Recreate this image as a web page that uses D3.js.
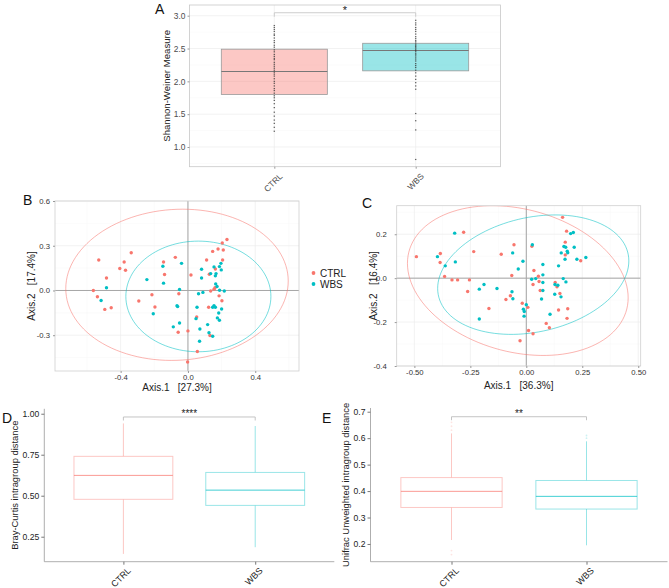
<!DOCTYPE html>
<html>
<head>
<meta charset="utf-8">
<script src="https://cdn.jsdelivr.net/npm/d3@7"></script>
<style>
  body { margin: 0; background: #fff; }
  svg { display: block; font-family: "Liberation Sans", Arial, sans-serif; }
</style>
</head>
<body>
<svg width="669" height="588"></svg>
<script>
// ---- data ----
let groups = ["CTRL", "WBS"]

// A: Shannon diversity, box (q1, median, q3) and the sample dots
let shannonQ1 = [1.80, 2.16]
let shannonMed = [2.15, 2.47]
let shannonQ3 = [2.49, 2.58]
let shannonCtrl = [2.85, 2.82, 2.79, 2.76, 2.72, 2.70, 2.66, 2.62, 2.59, 2.55, 2.52, 2.48, 2.45, 2.41,
  2.38, 2.35, 2.33, 2.29, 2.26, 2.23, 2.20, 2.17, 2.14, 2.11, 2.08, 2.04, 2.00, 1.97, 1.93, 1.89,
  1.86, 1.82, 1.78, 1.75, 1.71, 1.66, 1.60, 1.53, 1.47, 1.41, 1.36, 1.30, 1.24]
let shannonWbs = [2.93, 2.89, 2.86, 2.82, 2.79, 2.76, 2.72, 2.68, 2.65, 2.62, 2.60, 2.57, 2.55, 2.53,
  2.51, 2.49, 2.47, 2.45, 2.42, 2.40, 2.37, 2.34, 2.31, 2.27, 2.24, 2.21, 2.17, 2.13, 2.08, 2.03,
  1.98, 1.93, 1.88, 1.51, 1.40, 1.26, 0.81]

// B: PCoA (Bray-Curtis) coordinates [axis1, axis2]
let bCtrl = [[0.232, 0.342], [0.204, 0.318], [0.147, 0.262], [0.179, 0.278], [0.210, 0.271],
  [-0.337, 0.253], [-0.530, 0.204], [-0.379, 0.191], [-0.405, 0.147], [-0.371, 0.136],
  [-0.145, 0.191], [-0.075, 0.222], [0.111, 0.204], [0.206, 0.204], [-0.139, 0.107],
  [0.018, 0.104], [0.127, 0.109], [0.163, 0.144], [-0.484, 0.084], [-0.562, 0.0],
  [-0.538, -0.042], [-0.494, -0.127], [-0.456, -0.116], [-0.292, -0.071], [-0.214, -0.029],
  [-0.196, -0.111], [-0.054, -0.022], [0.135, -0.004], [0.155, 0.009], [0.161, 0.018],
  [0.185, -0.036], [0.202, -0.069], [0.123, -0.113], [0.052, -0.178], [-0.058, -0.280],
  [0.0, -0.271], [0.131, -0.302], [0.056, -0.409], [-0.002, -0.480]]
let bWbs = [[-0.038, 0.182], [-0.149, 0.162], [0.081, 0.142], [0.155, 0.158], [0.187, 0.160],
  [0.196, 0.182], [0.135, 0.113], [0.167, 0.113], [0.163, 0.098], [0.198, 0.138], [-0.244, 0.073],
  [0.081, 0.084], [-0.145, 0.049], [0.165, 0.044], [0.173, 0.027], [-0.484, 0.018], [-0.050, 0.007],
  [-0.516, -0.067], [0.089, -0.013], [0.063, -0.022], [0.188, 0.002], [0.216, -0.004],
  [-0.065, -0.102], [-0.061, -0.108], [0.054, -0.113], [0.155, -0.102], [0.147, -0.113],
  [0.163, -0.113], [0.200, -0.124], [-0.206, -0.156], [0.183, -0.151], [0.048, -0.189],
  [0.175, -0.184], [0.187, -0.200], [-0.050, -0.218], [-0.087, -0.244], [0.071, -0.258],
  [0.117, -0.229], [0.125, -0.284], [0.147, -0.307], [0.069, -0.340]]
// ellipses: [centre x, centre y, half width, half height, correlation]
let bEllipses = [[-0.065, 0.038, 0.661, 0.507, 0.05], [0.062, -0.040, 0.431, 0.371, 0.0]]

// C: PCoA (Unifrac) coordinates
let cCtrl = [[-0.491, 0.098], [-0.384, 0.112], [-0.385, 0.071], [-0.365, 0.008], [-0.332, -0.008],
  [-0.307, -0.008], [-0.280, 0.209], [-0.235, 0.121], [-0.254, -0.008], [-0.262, -0.061],
  [-0.167, -0.138], [-0.112, 0.109], [-0.055, 0.152], [-0.065, 0.012], [-0.071, -0.080],
  [-0.091, -0.097], [-0.018, -0.114], [0.007, -0.133], [0.025, 0.145], [0.034, 0.035],
  [0.010, -0.238], [-0.028, -0.285], [0.030, -0.253], [0.054, 0.009], [0.057, -0.015],
  [0.030, -0.029], [0.062, -0.056], [0.089, -0.206], [0.103, -0.226], [0.129, -0.020],
  [0.137, -0.039], [0.150, -0.070], [0.144, -0.145], [0.162, 0.277], [0.180, 0.214],
  [0.174, 0.164], [0.174, 0.106], [0.185, -0.139], [0.182, -0.183], [0.243, 0.079]]
let cWbs = [[-0.320, 0.205], [-0.397, 0.098], [-0.362, 0.056], [-0.317, 0.074], [-0.189, -0.029],
  [-0.210, -0.050], [-0.210, -0.186], [-0.131, -0.047], [-0.061, 0.115], [-0.015, 0.077],
  [-0.036, 0.042], [-0.064, -0.062], [-0.060, -0.094], [0.027, 0.152], [0.0, -0.121],
  [-0.013, -0.141], [-0.009, -0.152], [-0.010, -0.173], [0.024, -0.005], [0.042, -0.002],
  [0.074, 0.062], [0.074, 0.015], [0.074, -0.020], [0.074, -0.056], [0.068, -0.095],
  [0.106, -0.164], [0.128, -0.029], [0.141, -0.032], [0.127, -0.073], [0.144, 0.056],
  [0.155, -0.085], [0.156, 0.115], [0.168, 0.144], [0.176, 0.141], [0.183, 0.123],
  [0.185, 0.116], [0.173, 0.086], [0.165, -0.002], [0.177, -0.017], [0.198, 0.203],
  [0.210, 0.208], [0.214, 0.141], [0.226, 0.086], [0.266, 0.094]]
let cEllipses = [[-0.038, -0.011, 0.493, 0.341, -0.23], [0.031, 0.016, 0.427, 0.272, 0.23]]

// D / E: intragroup distances, [lower whisker, q1, median, q3, upper whisker]
let brayStats = [[0.145, 0.478, 0.624, 0.740, 0.941], [0.186, 0.441, 0.534, 0.642, 0.925]]
let brayOutliers = [[], []]
let unifracStats = [[0.215, 0.338, 0.399, 0.451, 0.618], [0.195, 0.332, 0.380, 0.440, 0.588]]
let unifracOutliers = [[0.66, 0.645, 0.63, 0.175, 0.16], [0.61, 0.60]]

let colors = ["#F8766D", "#00BFC4"]

let svg = d3.select("svg")

// small helper: restyle a d3 axis group the ggplot way
let styleAxis = (g, size, fill, tickColor) => {
  g.select(".domain").remove()
  g.selectAll(".tick line").attr("stroke", tickColor)
  g.selectAll(".tick text").style("font-size", size + "px").attr("fill", fill)
}

let panelLabel = (txt, x, y) => {
  svg.append("text").attr("x", x).attr("y", y).style("font-size", "14px").attr("fill", "#111").text(txt)
}

// ---------- A ----------
let drawPanelA = () => {
  let left = 189.5, right = 500.5, top = 5, bottom = 166.7
  let x = d3.scalePoint().domain(groups).range([left, right]).padding(0.6)
  let y = d3.scaleLinear().domain([0.70, 3.163]).range([bottom, top])
  let g = svg.append("g")

  g.append("rect").attr("x", left).attr("y", top).attr("width", right - left).attr("height", bottom - top)
   .attr("fill", "#fff")
  g.selectAll(".minor").data(d3.range(0.75, 3.2, 0.5)).enter().append("line")
   .attr("x1", left).attr("x2", right).attr("y1", d => y(d)).attr("y2", d => y(d))
   .attr("stroke", "#f6f6f6").attr("stroke-width", 0.5)
  g.selectAll(".major").data([1, 1.5, 2, 2.5, 3]).enter().append("line")
   .attr("x1", left).attr("x2", right).attr("y1", d => y(d)).attr("y2", d => y(d))
   .attr("stroke", "#ececec").attr("stroke-width", 0.7)
  g.selectAll(".vgrid").data(groups).enter().append("line")
   .attr("x1", d => x(d)).attr("x2", d => x(d)).attr("y1", top).attr("y2", bottom)
   .attr("stroke", "#ececec").attr("stroke-width", 0.7)

  let bw = x.step() * 0.75
  groups.forEach((grp, i) => {
    g.append("rect")
     .attr("x", x(grp) - bw / 2).attr("width", bw)
     .attr("y", y(shannonQ3[i])).attr("height", y(shannonQ1[i]) - y(shannonQ3[i]))
     .attr("fill", colors[i]).attr("fill-opacity", 0.4)
     .attr("stroke", "#999").attr("stroke-width", 0.8)
    g.append("line")
     .attr("x1", x(grp) - bw / 2).attr("x2", x(grp) + bw / 2)
     .attr("y1", y(shannonMed[i])).attr("y2", y(shannonMed[i]))
     .attr("stroke", "#777").attr("stroke-width", 1.2)
  })

  let dots = [shannonCtrl, shannonWbs]
  groups.forEach((grp, i) => {
    g.selectAll(".dot" + i).data(dots[i]).enter().append("rect")
     .attr("x", x(grp) - 0.7).attr("y", d => y(d) - 0.6).attr("width", 1.4).attr("height", 1.2)
     .attr("fill", "#333").attr("fill-opacity", 0.75)
  })

  g.append("rect").attr("x", left).attr("y", top).attr("width", right - left).attr("height", bottom - top)
   .attr("fill", "none").attr("stroke", "#c8c8c8").attr("stroke-width", 0.8)

  // significance bracket
  let by = y(3.045)
  g.append("path")
   .attr("d", `M${x("CTRL")},${by + 4}V${by}H${x("WBS")}V${by + 4}`)
   .attr("fill", "none").attr("stroke", "#c8c8c8").attr("stroke-width", 0.9)
  g.append("text").attr("x", (x("CTRL") + x("WBS")) / 2).attr("y", by + 1)
   .attr("text-anchor", "middle").style("font-size", "11px").attr("fill", "#222").text("*")

  let yAxis = g.append("g").attr("transform", `translate(${left},0)`)
   .call(d3.axisLeft(y).tickValues([1, 1.5, 2, 2.5, 3]).tickFormat(d => d.toFixed(1)).tickSize(2).tickPadding(2))
  styleAxis(yAxis, 8.4, "#4d4d4d", "#999")

  let xAxis = g.append("g").attr("transform", `translate(0,${bottom})`)
   .call(d3.axisBottom(x).tickSize(2))
  styleAxis(xAxis, 8.4, "#4d4d4d", "#999")
  xAxis.selectAll(".tick text")
   .attr("x", 0).attr("y", 0).attr("dy", "0.71em")
   .attr("text-anchor", "end")
   .attr("transform", "translate(4,6) rotate(-45)")

  g.append("text").attr("transform", `translate(167,${(top + bottom) / 2}) rotate(-90)`)
   .attr("text-anchor", "middle").attr("dy", "0.35em")
   .style("font-size", "9.6px").attr("fill", "#222").text("Shannon-Weiner Measure")

  panelLabel("A", 155, 14)
}

// ---------- B and C ----------
let drawPcoa = (o) => {
  let x = d3.scaleLinear().domain(o.xDomain).range([o.left, o.right])
  let y = d3.scaleLinear().domain(o.yDomain).range([o.bottom, o.top])
  let g = svg.append("g")
  let clipId = "clip" + o.label
  g.append("clipPath").attr("id", clipId).append("rect")
   .attr("x", o.left).attr("y", o.top).attr("width", o.right - o.left).attr("height", o.bottom - o.top)

  g.selectAll(".xminor").data(o.xMinor).enter().append("line")
   .attr("x1", d => x(d)).attr("x2", d => x(d)).attr("y1", o.top).attr("y2", o.bottom)
   .attr("stroke", "#f6f6f6").attr("stroke-width", 0.5)
  g.selectAll(".yminor").data(o.yMinor).enter().append("line")
   .attr("y1", d => y(d)).attr("y2", d => y(d)).attr("x1", o.left).attr("x2", o.right)
   .attr("stroke", "#f6f6f6").attr("stroke-width", 0.5)
  g.selectAll(".xmajor").data(o.xTicks).enter().append("line")
   .attr("x1", d => x(d)).attr("x2", d => x(d)).attr("y1", o.top).attr("y2", o.bottom)
   .attr("stroke", "#ededed").attr("stroke-width", 0.7)
  g.selectAll(".ymajor").data(o.yTicks).enter().append("line")
   .attr("y1", d => y(d)).attr("y2", d => y(d)).attr("x1", o.left).attr("x2", o.right)
   .attr("stroke", "#ededed").attr("stroke-width", 0.7)

  // zero lines
  g.append("line").attr("x1", x(0)).attr("x2", x(0)).attr("y1", o.top).attr("y2", o.bottom)
   .attr("stroke", "#a6a6a6").attr("stroke-width", 1)
  g.append("line").attr("y1", y(0)).attr("y2", y(0)).attr("x1", o.left).attr("x2", o.right)
   .attr("stroke", "#a6a6a6").attr("stroke-width", 1)

  // ellipses
  let line = d3.line().x(d => x(d[0])).y(d => y(d[1]))
  let ellipsePts = e => d3.range(0, 121).map(i => {
    let t = i / 120 * 2 * Math.PI
    return [e[0] + e[2] * Math.cos(t), e[1] + e[3] * (e[4] * Math.cos(t) + Math.sqrt(1 - e[4] * e[4]) * Math.sin(t))]
  })
  o.ellipses.forEach((e, i) => {
    g.append("path").attr("d", line(ellipsePts(e))).attr("clip-path", `url(#${clipId})`)
     .attr("fill", "none").attr("stroke", colors[i]).attr("stroke-opacity", 0.6).attr("stroke-width", 0.9)
  })

  ;[o.ctrl, o.wbs].forEach((pts, i) => {
    g.selectAll(".pt" + i).data(pts).enter().append("circle")
     .attr("cx", d => x(d[0])).attr("cy", d => y(d[1])).attr("r", 1.7)
     .attr("fill", colors[i])
  })

  g.append("rect").attr("x", o.left).attr("y", o.top).attr("width", o.right - o.left).attr("height", o.bottom - o.top)
   .attr("fill", "none").attr("stroke", "#cfcfcf").attr("stroke-width", 0.8)

  let xAxis = g.append("g").attr("transform", `translate(0,${o.bottom})`)
   .call(d3.axisBottom(x).tickValues(o.xTicks).tickFormat(o.xFmt).tickSize(2).tickPadding(2))
  styleAxis(xAxis, 7.7, "#333", "#999")
  let yAxis = g.append("g").attr("transform", `translate(${o.left},0)`)
   .call(d3.axisLeft(y).tickValues(o.yTicks).tickFormat(o.yFmt).tickSize(2).tickPadding(o.yPad))
  styleAxis(yAxis, 7.7, "#333", "#999")

  g.append("text").attr("x", (o.left + o.right) / 2).attr("y", o.xTitleY)
   .attr("text-anchor", "middle").style("font-size", "10px").attr("fill", "#222")
   .attr("xml:space", "preserve").text(o.xTitle)
  g.append("text").attr("transform", `translate(${o.yTitleX},${(o.top + o.bottom) / 2}) rotate(-90)`)
   .attr("text-anchor", "middle").attr("dy", "0.35em").attr("xml:space", "preserve")
   .style("font-size", "10px").attr("fill", "#222").text(o.yTitle)

  panelLabel(o.label, o.labelX, o.labelY)
}

let drawLegend = () => {
  let lg = svg.append("g")
  groups.forEach((grp, i) => {
    lg.append("circle").attr("cx", 313.5).attr("cy", 273 + i * 11).attr("r", 1.9).attr("fill", colors[i])
    lg.append("text").attr("x", 320).attr("y", 273 + i * 11).attr("dy", "0.36em")
     .style("font-size", "10px").attr("fill", "#222").text(grp)
  })
}

// ---------- D and E ----------
let drawDist = (o) => {
  let x = d3.scalePoint().domain(groups).range([o.left, o.right]).padding(0.6)
  let y = d3.scaleLinear().domain(o.yDomain).range([o.bottom, o.top])
  let g = svg.append("g")
  let bw = x.step() * 0.75

  groups.forEach((grp, i) => {
    let s = o.stats[i], cx = x(grp)
    g.append("line").attr("x1", cx).attr("x2", cx).attr("y1", y(s[0])).attr("y2", y(s[1]))
     .attr("stroke", colors[i]).attr("stroke-opacity", 0.45).attr("stroke-width", 0.9)
    g.append("line").attr("x1", cx).attr("x2", cx).attr("y1", y(s[3])).attr("y2", y(s[4]))
     .attr("stroke", colors[i]).attr("stroke-opacity", 0.45).attr("stroke-width", 0.9)
    g.append("rect").attr("x", cx - bw / 2).attr("width", bw)
     .attr("y", y(s[3])).attr("height", y(s[1]) - y(s[3]))
     .attr("fill", "#fff").attr("stroke", colors[i]).attr("stroke-opacity", 0.4).attr("stroke-width", 1)
    g.append("line").attr("x1", cx - bw / 2).attr("x2", cx + bw / 2).attr("y1", y(s[2])).attr("y2", y(s[2]))
     .attr("stroke", colors[i]).attr("stroke-opacity", 0.75).attr("stroke-width", 1)
    g.selectAll(".out" + i).data(o.outliers[i]).enter().append("circle")
     .attr("cx", cx).attr("cy", d => y(d)).attr("r", 0.9)
     .attr("fill", colors[i]).attr("fill-opacity", 0.2)
  })

  // axes (theme_classic)
  g.append("line").attr("x1", o.left).attr("x2", o.left).attr("y1", o.top).attr("y2", o.bottom)
   .attr("stroke", "#999").attr("stroke-width", 0.8)
  g.append("line").attr("x1", o.left).attr("x2", o.right).attr("y1", o.bottom).attr("y2", o.bottom)
   .attr("stroke", "#999").attr("stroke-width", 0.8)

  let yAxis = g.append("g").attr("transform", `translate(${o.left},0)`)
   .call(d3.axisLeft(y).tickValues(o.yTicks).tickFormat(o.fmt).tickSize(3).tickPadding(2))
  styleAxis(yAxis, 8.6, "#222", "#777")
  let xAxis = g.append("g").attr("transform", `translate(0,${o.bottom})`)
   .call(d3.axisBottom(x).tickSize(3))
  styleAxis(xAxis, 9, "#222", "#777")
  xAxis.selectAll(".tick text")
   .attr("x", 0).attr("y", 0).attr("dy", "0.71em")
   .attr("text-anchor", "end")
   .attr("transform", "translate(3,5) rotate(-45)")

  // bracket and stars
  let by = y(o.bracket)
  g.append("path")
   .attr("d", `M${x("CTRL")},${by + 3.5}V${by}H${x("WBS")}V${by + 3.5}`)
   .attr("fill", "none").attr("stroke", "#bdbdbd").attr("stroke-width", 0.9)
  g.append("text").attr("x", (x("CTRL") + x("WBS")) / 2).attr("y", by + 0.5)
   .attr("text-anchor", "middle").style("font-size", "10px").attr("fill", "#222").text(o.stars)

  g.append("text").attr("transform", `translate(${o.titleX},${(o.top + o.bottom) / 2}) rotate(-90)`)
   .attr("text-anchor", "middle").attr("dy", "0.35em")
   .style("font-size", "9.4px").attr("fill", "#222").text(o.title)

  panelLabel(o.label, o.labelX, o.labelY)
}

drawPanelA()

drawPcoa({
  label: "B", labelX: 23, labelY: 205,
  left: 55, right: 299, top: 201, bottom: 371,
  xDomain: [-0.79, 0.66], yDomain: [-0.54, 0.6],
  xTicks: [-0.4, 0, 0.4], yTicks: [-0.3, 0, 0.3, 0.6],
  xMinor: [-0.6, -0.2, 0.2, 0.6], yMinor: [-0.45, -0.15, 0.15, 0.45],
  xFmt: d => d.toFixed(1), yFmt: d => d.toFixed(1), yPad: 3,
  ctrl: bCtrl, wbs: bWbs, ellipses: bEllipses,
  xTitle: "Axis.1   [27.3%]", xTitleY: 391, yTitle: "Axis.2   [17.4%]", yTitleX: 31.5
})

drawPcoa({
  label: "C", labelX: 362, labelY: 208,
  left: 396.7, right: 640.7, top: 205.7, bottom: 366,
  xDomain: [-0.579, 0.511], yDomain: [-0.4, 0.33],
  xTicks: [-0.5, -0.25, 0, 0.25, 0.5], yTicks: [-0.4, -0.2, 0, 0.2],
  xMinor: [-0.375, -0.125, 0.125, 0.375], yMinor: [-0.3, -0.1, 0.1, 0.3],
  xFmt: d => d.toFixed(2), yFmt: d => d.toFixed(1), yPad: 8,
  ctrl: cCtrl, wbs: cWbs, ellipses: cEllipses,
  xTitle: "Axis.1   [36.3%]", xTitleY: 389, yTitle: "Axis.2   [16.4%]", yTitleX: 373.3
})

drawLegend()

drawDist({
  label: "D", labelX: 2, labelY: 423,
  left: 44.3, right: 334.3, top: 408.8, bottom: 561.7,
  yDomain: [0.0976, 1.03], yTicks: [0.25, 0.5, 0.75, 1.0], fmt: d => d.toFixed(2),
  stats: brayStats, outliers: brayOutliers, bracket: 0.98, stars: "****",
  title: "Bray-Curtis intragroup distance", titleX: 15
})

drawDist({
  label: "E", labelX: 322, labelY: 423,
  left: 370.5, right: 667.5, top: 408, bottom: 561.7,
  yDomain: [0.133, 0.714], yTicks: [0.2, 0.3, 0.4, 0.5, 0.6, 0.7], fmt: d => d.toFixed(1),
  stats: unifracStats, outliers: unifracOutliers, bracket: 0.681, stars: "**",
  title: "Unifrac Unweighted intragroup distance", titleX: 346
})
</script>
</body>
</html>
